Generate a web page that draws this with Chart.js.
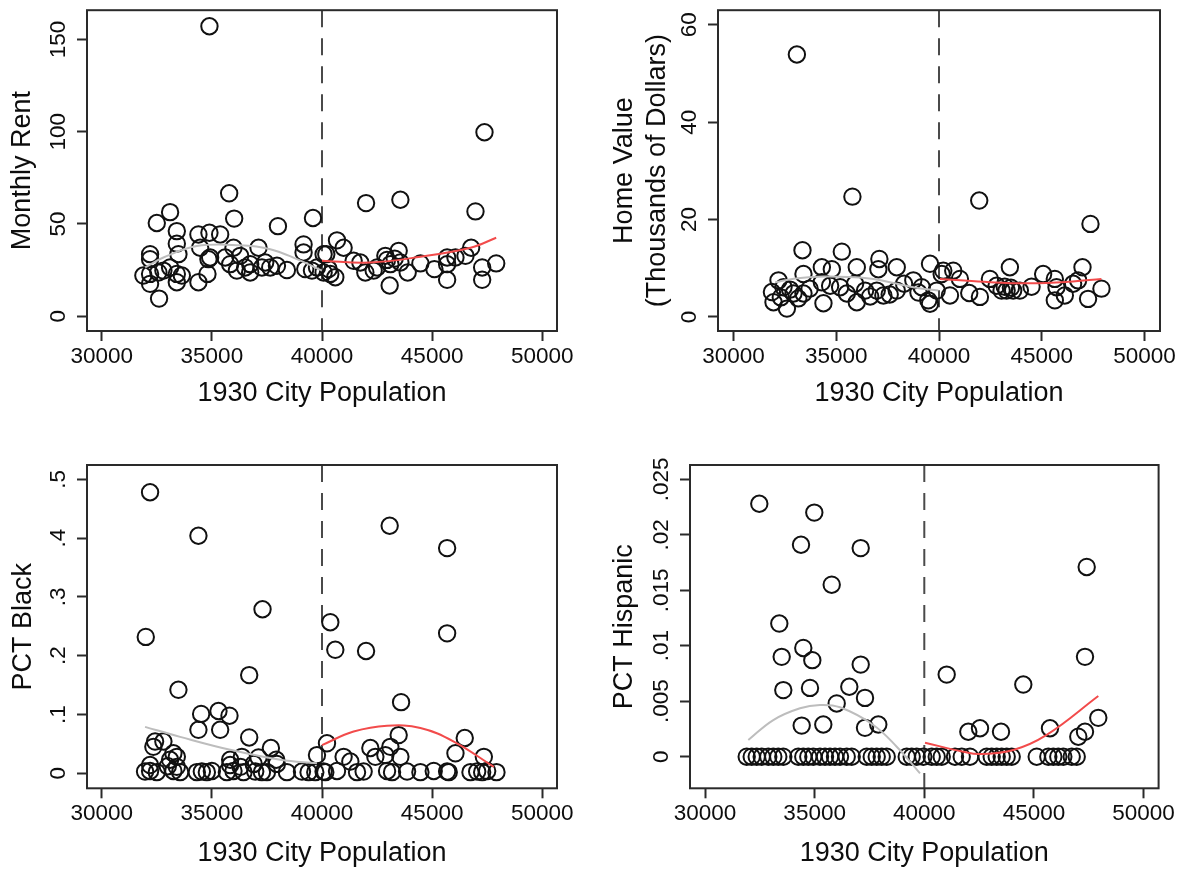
<!DOCTYPE html>
<html>
<head>
<meta charset="utf-8">
<script src="https://cdn.jsdelivr.net/npm/chart.js@4.4.1/dist/chart.umd.min.js"></script>
<style>
  html, body { margin: 0; padding: 0; background: #fff; }
  body { position: relative; width: 1187px; height: 869px; overflow: hidden; }
  .panel { position: absolute; }
</style>
</head>
<body>
<div class="panel" style="left:0;top:0;width:590px;height:430px"><canvas id="chart-rent"></canvas></div>
<div class="panel" style="left:590px;top:0;width:597px;height:430px"><canvas id="chart-home"></canvas></div>
<div class="panel" style="left:0;top:430px;width:590px;height:439px"><canvas id="chart-black"></canvas></div>
<div class="panel" style="left:590px;top:430px;width:597px;height:439px"><canvas id="chart-hisp"></canvas></div>
<script>
// cutoff and shared x axis
const CUTOFF = 40000;
const popTicks = [30000, 35000, 40000, 45000, 50000];
const popTickLabels = ['30000', '35000', '40000', '45000', '50000'];

// Monthly rent
const rentTicks = [0, 50, 100, 150];
const rentTickLabels = ['0', '50', '100', '150'];
const rentPoints = [
  [34890,157.2],[35786,66.6],[33104,56.4],[32500,50.5],[36013,52.9],[38000,48.8],[39590,53.2],
  [33409,46.1],[33409,39.3],[34390,44.3],[34890,45.2],[35377,44.3],[34468,37.1],[35982,37.1],[37118,37.1],
  [39163,38.9],[39163,34.5],[32195,33.6],[32195,30.9],[33482,33.6],[34922,31.8],[35604,31.8],[36286,32.7],
  [31891,22.0],[32195,22.9],[32573,23.7],[32800,24.7],[33409,22.9],[33409,18.4],[32195,17.5],[33104,26.4],
  [33636,22.0],[32604,9.5],[34390,18.4],[34800,22.9],[34845,30.9],[35831,28.2],[36135,24.7],[36513,26.4],
  [36740,28.2],[36740,23.7],[37272,26.4],[37422,29.1],[37650,26.4],[37954,27.3],[38408,25.0],[39240,25.5],
  [39545,24.7],[39772,26.4],
  [40072,33.6],[47376,99.7],[42000,61.3],[43558,63.1],[46967,56.8],[40681,41.1],[40981,37.1],[40195,33.6],
  [41436,30.0],[41740,29.1],[41967,23.7],[42345,24.7],[42876,32.7],[43104,28.2],[43481,35.4],[43558,29.1],
  [43072,16.6],[43890,23.7],[44467,28.6],[45103,25.5],[45680,31.8],[45680,28.2],[45680,19.7],[46058,31.8],
  [46513,32.7],[46771,37.1],[47271,26.4],[47271,19.7],[47908,28.6],[40072,23.7],[40377,22.9],[40604,21.1],
  [42500,26.4],[40300,25.5],[42950,30.5],[43300,31.2]
];
const rentFitLeft = [[31973,26.4],[32800,31.8],[34318,38.0],[36286,38.4],[37650,36.3],[38863,30.9],[40000,24.7]];
const rentFitRight = [[40000,30.0],[42200,29.1],[44467,32.2],[46740,37.1],[47908,42.5]];

// Home value
const homeTicks = [0, 20, 40, 60];
const homeTickLabels = ['0', '20', '40', '60'];
const homePoints = [
  [33082,53.9],[35785,24.7],[33354,13.7],[35269,13.4],[37097,11.9],[37943,10.2],[39562,10.9],[33402,8.8],
  [34297,10.2],[34783,9.8],[35998,10.2],[37048,9.8],[38750,7.5],[32187,7.5],[32430,6.1],[31867,5.1],
  [31944,3.0],[32596,1.7],[32917,4.8],[33402,4.8],[34375,2.8],[34297,7.1],[34700,6.4],[35187,6.1],
  [35512,4.8],[35916,6.8],[35998,3.0],[36402,5.4],[36970,5.4],[37292,4.4],[37943,5.4],[39158,6.1],
  [39479,3.4],[39887,5.4],[39562,2.7],[32300,4.0],[32750,5.6],[33150,3.8],[33700,5.8],[36650,4.2],
  [37600,4.6],[38300,6.8],[39000,5.0],
  [40130,8.8],[41958,23.9],[47373,19.1],[43450,10.2],[45069,8.8],[46985,10.2],[40208,9.5],[40694,9.5],
  [41018,7.8],[40533,4.4],[41472,4.9],[41992,4.1],[42478,7.8],[42804,6.4],[43047,5.4],[43290,5.4],
  [43611,5.4],[43935,5.4],[44505,6.2],[45638,7.8],[45720,6.1],[45638,3.4],[46124,4.4],[46528,6.8],
  [46771,7.5],[47256,3.7],[47908,5.8],[43200,6.2],[43500,6.0]
];
const homeFitLeft = [[32027,7.1],[33000,7.9],[34375,8.3],[35600,8.2],[36805,7.8],[38750,6.1],[39965,5.4]];
const homeFitRight = [[40048,7.8],[42200,7.2],[44422,6.9],[46300,7.2],[47908,7.8]];

// Share black
const blackTicks = [0, 0.1, 0.2, 0.3, 0.4, 0.5];
const blackTickLabels = ['0', '.1', '.2', '.3', '.4', '.5'];
const blackPoints = [
  [32195,0.478],[34390,0.404],[37300,0.279],[32000,0.232],[36695,0.167],[33482,0.142],[34513,0.101],
  [35300,0.106],[35800,0.098],[34390,0.074],[35377,0.074],[36695,0.061],[32422,0.054],[32800,0.054],
  [32345,0.045],[33254,0.034],[33409,0.028],[33104,0.023],[37680,0.043],[35831,0.023],[36363,0.028],
  [37118,0.027],[37922,0.023],[39772,0.031],
  [31968,0.003],[32195,0.004],[32500,0.002],[33254,0.004],[33559,0.002],[34318,0.002],[34545,0.003],
  [34772,0.002],[35000,0.004],[35681,0.002],[35981,0.004],[36436,0.002],[36968,0.003],[37272,0.002],
  [37500,0.002],[38408,0.002],[39090,0.003],[39390,0.002],[39695,0.002],
  [32195,0.014],[33000,0.012],[33409,0.011],[35831,0.014],[36300,0.011],[36900,0.016],[37950,0.016],
  [40226,0.051],[43072,0.421],[45680,0.383],[40377,0.257],[40604,0.210],[42000,0.208],[45680,0.238],
  [43590,0.121],[43481,0.065],[46480,0.060],[42195,0.043],[43104,0.045],[42422,0.028],[42876,0.031],
  [43558,0.028],[40981,0.028],[41286,0.020],[46058,0.034],[47347,0.028],
  [40072,0.003],[40150,0.002],[40681,0.004],[41590,0.002],[41890,0.003],[42953,0.004],[43180,0.002],
  [43862,0.003],[44467,0.002],[45072,0.004],[45680,0.003],[45754,0.002],[46740,0.002],[47044,0.003],
  [47271,0.002],[47498,0.004],[47920,0.002]
];
const blackFitLeft = [[31968,0.079],[33559,0.062],[35831,0.040],[38104,0.023],[39772,0.017]];
const blackFitRight = [[40000,0.048],[41436,0.071],[42953,0.081],[44467,0.077],[45981,0.054],[47800,0.011]];

// Share hispanic
const hispTicks = [0, 0.005, 0.01, 0.015, 0.02, 0.025];
const hispTickLabels = ['0', '.005', '.01', '.015', '.02', '.025'];
const hispPoints = [
  [32476,0.0228],[34984,0.0220],[34378,0.0191],[37100,0.0188],[35778,0.0155],[33388,0.0120],[33497,0.0090],
  [34482,0.0098],[34893,0.0087],[37100,0.0083],[33570,0.0060],[34788,0.0062],[36580,0.0063],[37296,0.0053],
  [36005,0.0048],[34409,0.0028],[35394,0.0029],[37296,0.0026],[37902,0.0029],
  [31902,0],[32130,0],[32358,0],[32586,0],[32886,0],[33114,0],[33342,0],[33570,0],[34254,0],[34482,0],
  [34710,0],[34938,0],[35244,0],[35472,0],[35700,0],[35928,0],[36156,0],[36462,0],[36690,0],[37374,0],
  [37602,0],[37830,0],[38058,0],[38286,0],[39198,0],[39426,0],[39654,0],[39955,0],
  [47405,0.0171],[47328,0.0090],[41021,0.0074],[44514,0.0065],[42007,0.00225],[42540,0.00256],
  [43498,0.00225],[45732,0.00256],[47934,0.0035],[47328,0.00225],[47022,0.0018],
  [40338,0],[40566,0],[40794,0],[41400,0],[41706,0],[42084,0],[42845,0],[43073,0],[43301,0],[43529,0],
  [43757,0],[43985,0],[45126,0],[45655,0],[45883,0],[46111,0],[46339,0],[46722,0],[46950,0]
];
const hispFitLeft = [[31975,0.0015],[33114,0.0033],[34332,0.00436],[35244,0.00466],[36156,0.00445],[37675,0.00286],[38742,0.0009],[39804,-0.0015]];
const hispFitRight = [[40032,0.00126],[41779,0.00045],[42540,0.00024],[44059,0.0006],[45580,0.00196],[47934,0.00547]];

const TEXT = '#0d0d0d';
const AXIS = '#2a2a2a';

Chart.defaults.font.family = "'Liberation Sans', Arial, sans-serif";
Chart.defaults.color = TEXT;

const toXY = (pts) => pts.map(([x, y]) => ({ x, y }));

// box around the plot region plus the dashed cutoff line
const framePlugin = {
  id: 'frame',
  beforeDatasetsDraw(chart) {
    const { ctx, chartArea: a, scales: { x } } = chart;
    const px = x.getPixelForValue(CUTOFF);
    ctx.save();
    ctx.strokeStyle = '#4a4a4a';
    ctx.lineWidth = 2;
    ctx.setLineDash([17, 11]);
    ctx.beginPath();
    ctx.moveTo(px, a.top);
    ctx.lineTo(px, a.bottom);
    ctx.stroke();
    ctx.restore();
  },
  afterDraw(chart) {
    const { ctx, chartArea: a } = chart;
    ctx.save();
    ctx.strokeStyle = AXIS;
    ctx.lineWidth = 2;
    ctx.strokeRect(a.left, a.top, a.right - a.left, a.bottom - a.top);
    ctx.restore();
  }
};

function fitLine(pts, color) {
  return {
    data: toXY(pts),
    showLine: true,
    borderColor: color,
    borderWidth: 2,
    pointRadius: 0,
    tension: 0.4,
    fill: false,
    order: 1,
  };
}

function buildPanel(id, p) {
  const ctx = document.getElementById(id)?.getContext('2d');
  if (!ctx) return null;

  const tickGrid = {
    display: true,
    drawOnChartArea: false,
    drawTicks: true,
    tickLength: 10,
    tickColor: AXIS,
    tickWidth: 2,
  };

  return new Chart(ctx, {
    type: 'scatter',
    data: {
      datasets: [
        {
          data: toXY(p.points),
          pointRadius: 8.2,
          pointBorderWidth: 2,
          borderColor: '#111',
          backgroundColor: 'rgba(0,0,0,0)',
          order: 2,
        },
        fitLine(p.fitLeft, '#bdbdbd'),
        fitLine(p.fitRight, '#f24b4b'),
      ]
    },
    options: {
      responsive: true,
      maintainAspectRatio: false,
      animation: false,
      layout: { padding: p.pad },
      plugins: {
        legend: { display: false },
        tooltip: { enabled: false },
      },
      scales: {
        x: {
          type: 'linear',
          min: p.xMin,
          max: p.xMax,
          afterBuildTicks: (s) => { s.ticks = popTicks.map(v => ({ value: v })); },
          afterFit: (s) => { s.height = p.xAxisH; s.paddingLeft = 0; s.paddingRight = 0; },
          grid: tickGrid,
          border: { display: false },
          ticks: {
            autoSkip: false,
            maxRotation: 0,
            padding: 2,
            color: TEXT,
            font: { size: 22.5 },
            callback: (v, i) => popTickLabels[i],
          },
          title: {
            display: true,
            text: '1930 City Population',
            color: TEXT,
            font: { size: 27 },
            padding: { top: 0, bottom: p.xTitlePad },
          }
        },
        y: {
          type: 'linear',
          min: p.yMin,
          max: p.yMax,
          afterBuildTicks: (s) => { s.ticks = p.yTicks.map(v => ({ value: v })); },
          afterFit: (s) => { s.width = p.yAxisW; s.paddingTop = 0; s.paddingBottom = 0; },
          grid: tickGrid,
          border: { display: false },
          ticks: {
            autoSkip: false,
            minRotation: 90,
            maxRotation: 90,
            crossAlign: 'center',
            padding: p.yTickPad,
            color: TEXT,
            font: { size: 22.5 },
            callback: (v, i) => p.yTickLabels[i],
          },
          title: {
            display: true,
            text: p.yTitle,
            color: TEXT,
            font: { size: 27 },
            padding: { top: p.yTitlePad, bottom: 0 },
          }
        }
      }
    },
    plugins: [framePlugin]
  });
}

buildPanel('chart-rent', {
  points: rentPoints, fitLeft: rentFitLeft, fitRight: rentFitRight,
  yTicks: rentTicks, yTickLabels: rentTickLabels, yTitle: 'Monthly Rent',
  xMin: 29332, xMax: 50668, yMin: -8.06, yMax: 165.9,
  pad: { top: 7, right: 33, left: 0, bottom: 0 },
  yAxisW: 87, xAxisH: 99, yTickPad: -0.7, yTitlePad: 6.8, xTitlePad: 19.8,
});

buildPanel('chart-home', {
  points: homePoints, fitLeft: homeFitLeft, fitRight: homeFitRight,
  yTicks: homeTicks, yTickLabels: homeTickLabels,
  yTitle: ['Home Value', '(Thousands of Dollars)'],
  xMin: 29242, xMax: 50758, yMin: -2.9, yMax: 63.0,
  pad: { top: 7, right: 27, left: 0, bottom: 0 },
  yAxisW: 128, xAxisH: 99, yTickPad: 5.5, yTitlePad: 18.8, xTitlePad: 19.8,
});

buildPanel('chart-black', {
  points: blackPoints, fitLeft: blackFitLeft, fitRight: blackFitRight,
  yTicks: blackTicks, yTickLabels: blackTickLabels, yTitle: 'PCT Black',
  xMin: 29332, xMax: 50668, yMin: -0.0255, yMax: 0.5243,
  pad: { top: 35, right: 33, left: 0, bottom: 0 },
  yAxisW: 87, xAxisH: 80.7, yTickPad: 8.6, yTitlePad: 7.8, xTitlePad: -1,
});

buildPanel('chart-hisp', {
  points: hispPoints, fitLeft: hispFitLeft, fitRight: hispFitRight,
  yTicks: hispTicks, yTickLabels: hispTickLabels, yTitle: 'PCT Hispanic',
  xMin: 29316, xMax: 50684, yMin: -0.00285, yMax: 0.02629,
  pad: { top: 35, right: 28.4, left: 0, bottom: 0 },
  yAxisW: 100, xAxisH: 80.7, yTickPad: -3.9, yTitlePad: 18.8, xTitlePad: -1,
});
</script>
</body>
</html>
